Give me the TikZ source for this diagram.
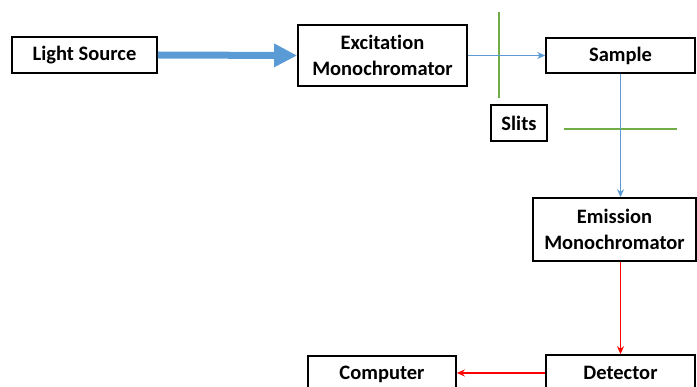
\documentclass[tikz,border=0pt]{standalone}
\usepackage{fontspec}
\setmainfont[Ligatures=NoCommon]{Carlito}
\usetikzlibrary{arrows.meta}
\definecolor{beam}{RGB}{91,155,213}
\definecolor{slit}{RGB}{112,173,71}
\tikzset{
  box/.style={draw=black, line width=1.6pt, fill=white, inner sep=0pt, align=center,
    font=\fontsize{20.5}{25.5}\selectfont\bfseries},
  thinarrow/.style={line width=1.7pt, -{Stealth[length=8pt,width=7pt]}},
  slitline/.style={draw=slit, line width=1.7pt}
}
\begin{document}
\begin{tikzpicture}[x=1pt,y=-1pt]
\useasboundingbox (0,0) rectangle (697,387);
\clip (0,0) rectangle (697,387);
% instrument blocks
\node[box, minimum width=145pt, minimum height=36pt] (light) at (84.5,55) {Light Source};
\node[box, minimum width=169pt, minimum height=61pt] (exc) at (382.5,55.5) {Excitation\\Monochromator};
\node[box, minimum width=149pt, minimum height=35pt] (sample) at (620.5,55.5) {Sample};
\node[box, minimum width=56pt, minimum height=36pt] (slits) at (519,123) {Slits};
\node[box, minimum width=163pt, minimum height=63pt] (emi) at (614.5,229.5) {Emission\\Monochromator};
\node[box, minimum width=149pt, minimum height=36pt] (det) at (620.5,373) {Detector};
\node[box, minimum width=148pt, minimum height=36pt] (comp) at (382,374) {Computer};
% slit positions
\coordinate (s1a) at (499,12);
\coordinate (s1b) at (499,98);
\coordinate (s2a) at (564,129);
\coordinate (s2b) at (677,129);
\draw[slitline] (s1a) -- (s1b);
\draw[slitline] (s2a) -- (s2b);
% light path
\draw[beam, line width=7pt, -{Triangle[length=23pt,width=22pt]}] (light.east) -- (exc.west);
\draw[beam, thinarrow] (exc.east) -- (sample.west);
\draw[beam, thinarrow] (sample.south) -- (sample.south |- emi.north);
\draw[red, thinarrow] (sample.south |- emi.south) -- (sample.south |- det.north);
\draw[red, thinarrow] (det.west |- 0,373) -- (comp.east |- 0,373);
\end{tikzpicture}
\end{document}
